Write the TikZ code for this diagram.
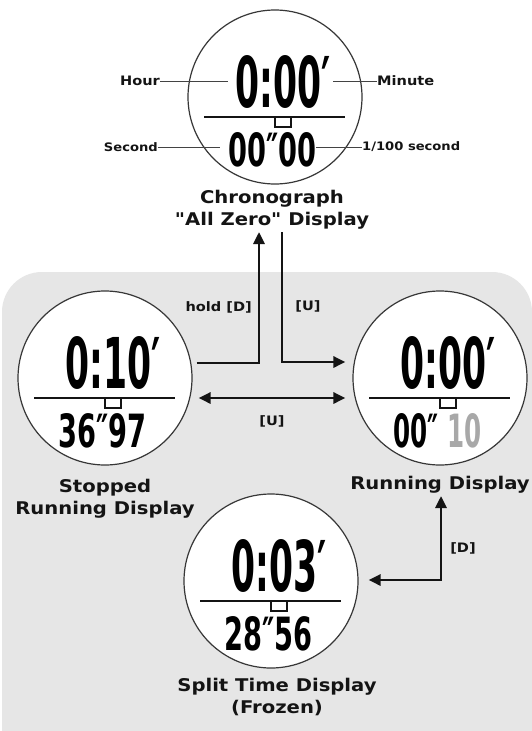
\documentclass[tikz,border=0pt]{standalone}
\usepackage{fontspec}
\usetikzlibrary{arrows.meta,calc}
\newfontfamily\lbl[FakeStretch=1.12]{DejaVu Sans}
\newfontfamily\dig{DejaVu Sans}
\definecolor{bandgray}{HTML}{E6E6E6}
\definecolor{inkc}{HTML}{141414}
\definecolor{faintdig}{HTML}{A8A8A8}
\newcommand\watch[5]{%
  \node[watchface] (#1) at (#2,#3) {};
  \node[inner sep=0,anchor=south west] (#1-big) at (#2-40,#3+12) {\resizebox{95pt}{52pt}{\dig\bfseries #4}};
  \draw[line width=1.6pt,inkc] (#2-71,#3+20) -- (#2+70,#3+20);
  \draw[line width=1.2pt,inkc] (#2,#3+20) rectangle (#2+16,#3+30);
  \node[inner sep=0,anchor=south west] (#1-low) at (#2-47,#3+70) {\resizebox{88pt}{34pt}{\dig\bfseries #5}};
}
\begin{document}
\begin{tikzpicture}[x=1pt,y=-1pt,
  watchface/.style={circle,draw=inkc!85,line width=1.2pt,fill=white,minimum size=174pt,inner sep=0},
  captxt/.style={font=\lbl\bfseries\fontsize{17.5}{22}\selectfont,text=inkc,inner sep=0,align=center},
  labtxt/.style={font=\lbl\bfseries\fontsize{13}{15}\selectfont,text=inkc,inner sep=0},
  smalltxt/.style={font=\lbl\bfseries\fontsize{11.7}{13}\selectfont,text=inkc,inner sep=0},
  connline/.style={line width=2.8pt,draw=inkc},
  onetip/.style={-{Triangle[length=12pt,width=11pt]}},
  twotips/.style={{Triangle[length=12pt,width=11pt]}-{Triangle[length=12pt,width=11pt]}},
  leaderline/.style={line width=0.9pt,draw=inkc!80}
]
\useasboundingbox (0,0) rectangle (532,731);
\fill[white] (0,0) rectangle (532,731);
\fill[bandgray,rounded corners=40pt] (2,272) rectangle (532,800);

% displays
\watch{chrono}{275}{97}{0:00′}{00″00}
\watch{stop}{105}{378}{0:10′}{36″97}
\watch{run}{440}{378}{0:00′}{00″\hspace{0.35em}\textcolor{faintdig}{10}}
\watch{split}{271}{581}{0:03′}{28″56}

% captions
\node[captxt] (chrono-cap) at (272,210) {Chronograph\\"All Zero" Display};
\node[captxt] (stop-cap) at (105,499) {Stopped\\Running Display};
\node[captxt] (run-cap) at (440,485) {Running Display};
\node[captxt] (split-cap) at (277,697) {Split Time Display\\(Frozen)};

% top labels
\node[labtxt,anchor=east] (hour) at (160,81) {Hour};
\coordinate (hourend) at (228,81);
\draw[leaderline] (hour.east) -- (hourend);
\node[labtxt,anchor=west] (minute) at (377,81) {Minute};
\coordinate (minend) at (333,81);
\draw[leaderline] (minend) -- (minute.west);
\node[smalltxt,anchor=east] (second) at (158,147) {Second};
\coordinate (secend) at (220,147);
\draw[leaderline] (second.east) -- (secend);
\node[smalltxt,anchor=west] (hund) at (362,147) {1/100 second};
\coordinate (hundend) at (316,147);
\draw[leaderline] (hundend) -- (hund.west);

% connectors
\coordinate (a1s) at ($(stop.east)+(4,-15)$);
\coordinate (a1e) at (259,232);
\draw[connline,onetip] (a1s) -| (a1e);
\node[labtxt,anchor=east] (holdD) at (252,307) {hold [D]};

\coordinate (a2s) at (282,232);
\coordinate (a2e) at ($(run.west)+(-7,-16)$);
\draw[connline,onetip] (a2s) |- (a2e);
\node[labtxt] (u1) at (308,306) {[U]};

\coordinate (a3s) at ($(stop.east)+(6,20)$);
\coordinate (a3e) at ($(run.west)+(-7,20)$);
\draw[connline,twotips] (a3s) -- (a3e);
\node[labtxt] (u2) at (272,421) {[U]};

\coordinate (a4s) at (441,496);
\coordinate (a4e) at ($(split.east)+(10,-1)$);
\draw[connline,twotips] (a4s) |- (a4e);
\node[labtxt] (d1) at (463,548) {[D]};
\end{tikzpicture}
\end{document}
